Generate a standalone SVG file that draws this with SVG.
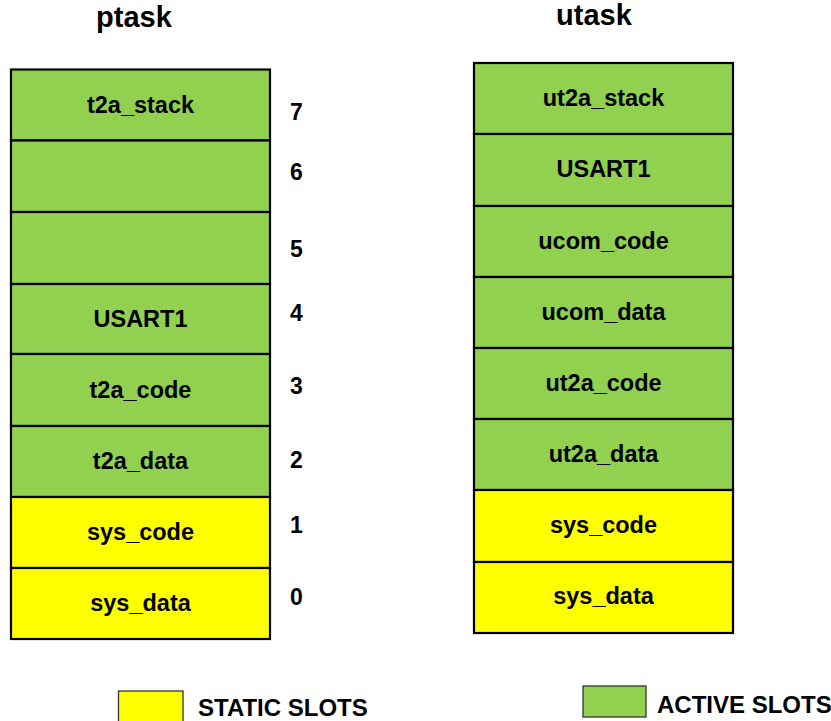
<svg xmlns="http://www.w3.org/2000/svg" width="831" height="721" viewBox="0 0 831 721">
<style>
text{font-family:"Liberation Sans",Arial,sans-serif;font-weight:bold;fill:#000}
.lbl{font-size:23.5px;text-anchor:middle}
.num{font-size:23px}
.ttl{font-size:29px;text-anchor:middle}
.leg{font-size:24px}
.g{fill:#92D050;stroke:#000;stroke-width:2.2}
.y{fill:#FFFF00;stroke:#000;stroke-width:2.2}
.lg{stroke:#333;stroke-width:1.3}
</style>
<rect width="831" height="721" fill="#fff"/>
<text class="ttl" x="134" y="27">ptask</text>
<text class="ttl" x="594" y="25">utask</text>
<g id="ptask">
<g id="p7"><rect class="g" x="11" y="69.5" width="259" height="71"/><text class="lbl" x="140.5" y="113">t2a_stack</text></g>
<g id="p6"><rect class="g" x="11" y="140.5" width="259" height="71.5"/></g>
<g id="p5"><rect class="g" x="11" y="212" width="259" height="72"/></g>
<g id="p4"><rect class="g" x="11" y="284" width="259" height="70"/><text class="lbl" x="140.5" y="327">USART1</text></g>
<g id="p3"><rect class="g" x="11" y="354" width="259" height="72"/><text class="lbl" x="140.5" y="398">t2a_code</text></g>
<g id="p2"><rect class="g" x="11" y="426" width="259" height="71"/><text class="lbl" x="140.5" y="469">t2a_data</text></g>
<g id="p1"><rect class="y" x="11" y="497" width="259" height="71"/><text class="lbl" x="140.5" y="540">sys_code</text></g>
<g id="p0"><rect class="y" x="11" y="568" width="259" height="71"/><text class="lbl" x="140.5" y="611">sys_data</text></g>
</g>
<g id="indices">
<text class="num" x="290" y="120">7</text>
<text class="num" x="290" y="180">6</text>
<text class="num" x="290" y="257">5</text>
<text class="num" x="290" y="321">4</text>
<text class="num" x="290" y="394">3</text>
<text class="num" x="290" y="468">2</text>
<text class="num" x="290" y="533">1</text>
<text class="num" x="290" y="605">0</text>
</g>
<g id="utask">
<g id="u7"><rect class="g" x="474" y="63" width="259" height="71"/><text class="lbl" x="603.5" y="105.5">ut2a_stack</text></g>
<g id="u6"><rect class="g" x="474" y="134" width="259" height="72"/><text class="lbl" x="603.5" y="177">USART1</text></g>
<g id="u5"><rect class="g" x="474" y="206" width="259" height="71"/><text class="lbl" x="603.5" y="248.5">ucom_code</text></g>
<g id="u4"><rect class="g" x="474" y="277" width="259" height="71"/><text class="lbl" x="603.5" y="319.5">ucom_data</text></g>
<g id="u3"><rect class="g" x="474" y="348" width="259" height="71"/><text class="lbl" x="603.5" y="390.5">ut2a_code</text></g>
<g id="u2"><rect class="g" x="474" y="419" width="259" height="71"/><text class="lbl" x="603.5" y="461.5">ut2a_data</text></g>
<g id="u1"><rect class="y" x="474" y="490" width="259" height="72"/><text class="lbl" x="603.5" y="533">sys_code</text></g>
<g id="u0"><rect class="y" x="474" y="562" width="259" height="71"/><text class="lbl" x="603.5" y="604">sys_data</text></g>
</g>
<g id="legend-static"><rect class="lg" x="118.5" y="691" width="64.5" height="32" fill="#FFFF00"/><text class="leg" x="198" y="716">STATIC SLOTS</text></g>
<g id="legend-active"><rect class="lg" x="583" y="686" width="63" height="31" fill="#92D050"/><text class="leg" x="657" y="713">ACTIVE SLOTS</text></g>
<g id="connectors"></g>
</svg>
